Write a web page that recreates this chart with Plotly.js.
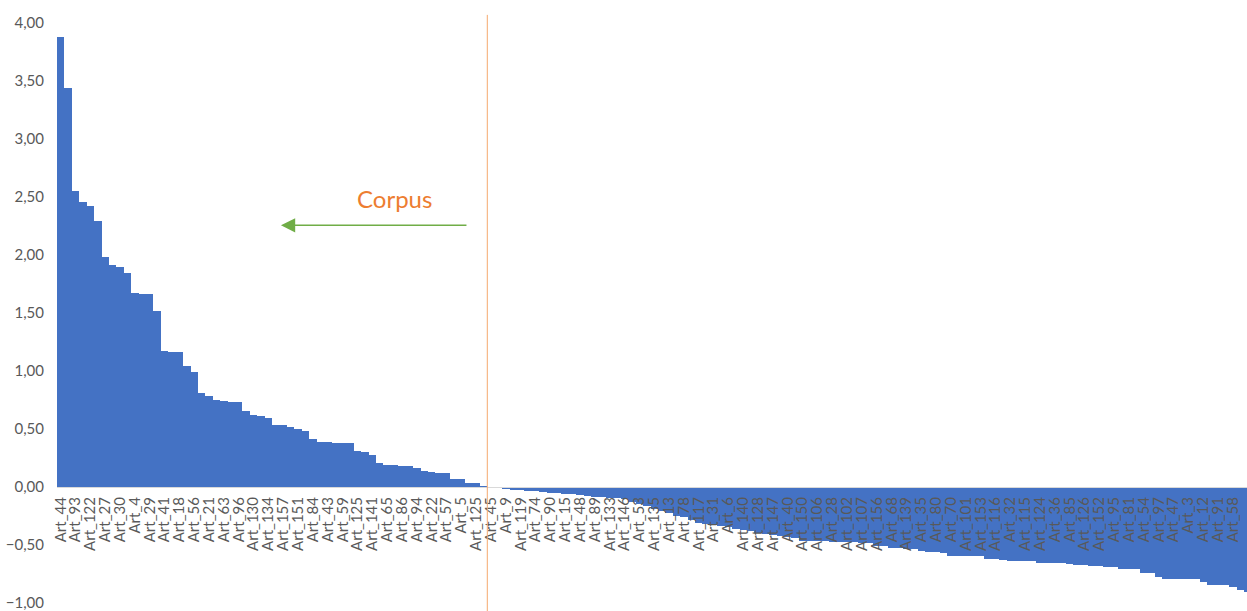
<!DOCTYPE html>
<html>
<head>
<meta charset="utf-8">
<script src="https://cdn.plot.ly/plotly-3.0.1.min.js"></script>
<style>html,body{margin:0;padding:0;background:#fff;}#chart{width:1247px;height:611px;}</style>
</head>
<body>
<div id="chart"></div>
<script>
// Bar values, in chart order (sorted descending)
const values = [
  3.88, 3.44, 2.55, 2.46, 2.42, 2.29, 1.98, 1.91, 1.90, 1.84,
  1.67, 1.66, 1.66, 1.52, 1.17, 1.16, 1.16, 1.045, 0.99, 0.81,
  0.78, 0.745, 0.74, 0.735, 0.73, 0.65, 0.62, 0.61, 0.59, 0.535,
  0.53, 0.515, 0.50, 0.48, 0.41, 0.39, 0.385, 0.38, 0.38, 0.38,
  0.31, 0.30, 0.27, 0.205, 0.19, 0.185, 0.18, 0.175, 0.16, 0.135,
  0.13, 0.12, 0.115, 0.07, 0.07, 0.03, 0.03, 0.005,
  -0.01, -0.015, -0.02, -0.025, -0.03, -0.035, -0.04, -0.045, -0.05, -0.055,
  -0.06, -0.065, -0.07, -0.08, -0.085, -0.09, -0.095, -0.10, -0.11, -0.13,
  -0.15, -0.17, -0.19, -0.21, -0.23, -0.25, -0.265, -0.29, -0.31, -0.325,
  -0.33, -0.335, -0.35, -0.365, -0.375, -0.385, -0.395, -0.405, -0.415, -0.425,
  -0.435, -0.44, -0.465, -0.465, -0.465, -0.47, -0.48, -0.48, -0.48, -0.48,
  -0.485, -0.485, -0.515, -0.515, -0.525, -0.525, -0.535, -0.535, -0.555, -0.56,
  -0.565, -0.573, -0.595, -0.595, -0.595, -0.60, -0.60, -0.625, -0.625, -0.635,
  -0.638, -0.638, -0.64, -0.64, -0.655, -0.66, -0.66, -0.66, -0.665, -0.676,
  -0.676, -0.68, -0.68, -0.695, -0.695, -0.71, -0.71, -0.71, -0.745, -0.745,
  -0.775, -0.795, -0.795, -0.795, -0.80, -0.80, -0.825, -0.848, -0.848, -0.848,
  -0.868, -0.89, -0.91
];

// Tick labels shown (every second bar)
const tickLabels = [
  "Art_44","Art_93","Art_122","Art_27","Art_30","Art_4","Art_29","Art_41","Art_18","Art_56",
  "Art_21","Art_63","Art_96","Art_130","Art_134","Art_157","Art_151","Art_84","Art_43","Art_59",
  "Art_125","Art_141","Art_65","Art_86","Art_94","Art_22","Art_57","Art_5","Art_125",
  "Art_45","Art_9","Art_119","Art_74","Art_90","Art_15","Art_48","Art_89","Art_133","Art_146",
  "Art_53","Art_135","Art_13","Art_78","Art_117","Art_31","Art_6","Art_140","Art_128","Art_147",
  "Art_40","Art_150","Art_106","Art_28","Art_102","Art_107","Art_156","Art_68","Art_139","Art_35",
  "Art_80","Art_70","Art_101","Art_153","Art_116","Art_32","Art_115","Art_124","Art_36","Art_85",
  "Art_126","Art_152","Art_95","Art_81","Art_54","Art_97","Art_47","Art_3","Art_12","Art_91",
  "Art_58"
];

const yTicks = [-1, -0.5, 0, 0.5, 1, 1.5, 2, 2.5, 3, 3.5, 4];

const positions = values.map((_, i) => i);
const tickPositions = tickLabels.map((_, i) => i * 2);
const splitAfter = 57.5; // boundary between last positive and first negative bar

const trace = {
  type: 'bar',
  x: positions,
  y: values,
  marker: {color: '#4472C4', line: {width: 0}},
  hoverinfo: 'skip'
};

const layout = {
  width: 1247,
  height: 611,
  margin: {l: 57, r: 0, t: 23, b: 8},
  paper_bgcolor: '#ffffff',
  plot_bgcolor: '#ffffff',
  separators: ', ',
  bargap: 0,
  showlegend: false,
  font: {family: 'Lato, "Open Sans", sans-serif', color: '#595959'},
  xaxis: {
    range: [-0.5, 159.9],
    anchor: 'free',
    position: 0.2,
    tickmode: 'array',
    tickvals: tickPositions,
    ticktext: tickLabels,
    tickangle: -90,
    tickfont: {family: 'Lato, sans-serif', size: 15, color: '#595959'},
    showgrid: false,
    zeroline: false,
    showline: true,
    linecolor: '#D9D9D9',
    linewidth: 1,
    ticks: '',
    ticklabelstandoff: 3,
    fixedrange: true
  },
  yaxis: {
    range: [-1.003, 4.001],
    tickmode: 'array',
    tickvals: yTicks,
    tickformat: '.2f',
    tickfont: {family: 'Lato, sans-serif', size: 15, color: '#595959'},
    ticklabeloverflow: 'allow',
    showgrid: false,
    zeroline: false,
    showline: false,
    ticks: '',
    ticklabelstandoff: 12,
    fixedrange: true
  },
  shapes: [{
    type: 'line',
    xref: 'x', yref: 'paper',
    x0: splitAfter, x1: splitAfter,
    y0: -0.015, y1: 1.014,
    line: {color: '#F6A96E', width: 1}
  }],
  annotations: [
    {
      xref: 'paper', yref: 'paper',
      x: 0.2832, y: 0.6976,
      text: 'Corpus',
      showarrow: false,
      font: {family: 'Lato, sans-serif', size: 24, color: '#ED7D31'},
      xanchor: 'center', yanchor: 'middle'
    },
    {
      xref: 'paper', yref: 'paper',
      x: 0.1882, y: 0.6512,
      text: '',
      showarrow: true,
      arrowhead: 2,
      arrowsize: 1.9,
      arrowwidth: 1.5,
      arrowcolor: '#70AD47',
      ax: 187, ay: 0,
      standoff: 0
    }
  ]
};

Plotly.newPlot('chart', [trace], layout, {displayModeBar: false, staticPlot: true});
</script>
</body>
</html>
